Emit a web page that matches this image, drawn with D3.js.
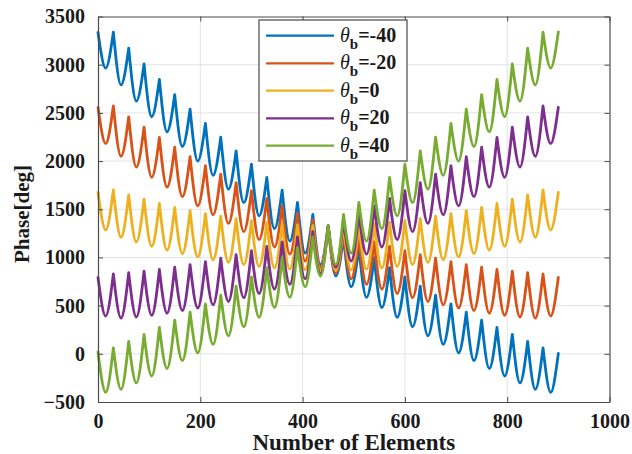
<!DOCTYPE html>
<html><head><meta charset="utf-8">
<script src="https://cdn.jsdelivr.net/npm/d3@7"></script>
<style>body{margin:0;background:#fff}svg{display:block}</style>
</head><body>
<svg id="chart" width="632" height="454"></svg>
<script>
// element index at which each value was read (peaks and troughs alternate)
const elementIdx = [0,15,30,45,60,75,90,105,120,135,150,165,180,195,210,225,240,255,270,285,300,315,330,345,360,375,390,405,420,435,450,465,480,495,510,525,540,555,570,585,600,615,630,645,660,675,690,705,720,735,750,765,780,795,810,825,840,855,870,885,900];

const phaseM40 = [3336,2965,3338,2790,3171,2622,3009,2460,2847,2303,2690,2151,2538,1999,2391,1852,2247,1708,2105,1568,1967,1431,1831,1299,1699,1170,1571,1045,1447,924,1328,807,1213,694,1103,585,997,480,895,378,797,281,701,187,609,97,519,10,432,-71,350,-153,273,-230,201,-302,129,-369,62,-400,5];
const phaseM20 = [2558,2180,2572,2050,2459,1938,2352,1831,2245,1729,2143,1631,2045,1534,1953,1442,1864,1353,1777,1267,1693,1185,1612,1108,1535,1034,1462,963,1392,897,1328,835,1268,777,1213,722,1161,672,1114,625,1071,583,1030,543,992,508,957,476,925,449,898,421,875,399,858,382,841,370,829,392,794];
const phase0 = [1676,1285,1700,1210,1650,1160,1605,1115,1560,1075,1520,1040,1485,1005,1455,975,1428,948,1403,925,1382,905,1363,890,1348,878,1337,870,1330,866,1328,866,1330,870,1337,878,1348,890,1363,905,1382,925,1403,948,1428,975,1455,1005,1485,1040,1520,1075,1560,1115,1605,1160,1650,1210,1700,1285,1676];
const phaseP20 = [794,392,829,370,841,382,858,399,875,421,898,449,925,476,957,508,992,543,1030,583,1071,625,1114,672,1161,722,1213,777,1268,835,1328,897,1392,963,1462,1034,1535,1108,1612,1185,1693,1267,1777,1353,1864,1442,1953,1534,2045,1631,2143,1729,2245,1831,2352,1938,2459,2050,2572,2180,2558];
const phaseP40 = [19,-400,62,-369,129,-302,201,-230,273,-153,350,-71,432,10,519,97,609,187,701,281,797,378,895,480,997,585,1103,694,1213,807,1328,924,1447,1045,1571,1170,1699,1299,1831,1431,1967,1568,2105,1708,2247,1852,2391,1999,2538,2151,2690,2303,2847,2460,3009,2622,3171,2790,3338,2965,3340];

const legendValues = ["=-40","=-20","=0","=20","=40"];
const seriesColors = ["#0072BD","#D95319","#EDB120","#7E2F8E","#77AC30"];
const xTicks = [0,200,400,600,800,1000];
const yTicks = [-500,0,500,1000,1500,2000,2500,3000,3500];

const seriesList = [phaseM40, phaseM20, phase0, phaseP20, phaseP40];

const svg = d3.select("#chart");
const L = 98, R = 609.5, T = 16.5, B = 402;
const x = d3.scaleLinear().domain([0,1000]).range([L,R]);
const y = d3.scaleLinear().domain([-500,3500]).range([B,T]);
const font = "'Liberation Serif','Times New Roman',serif";

svg.append("rect").attr("x",L).attr("y",T).attr("width",R-L).attr("height",B-T).attr("fill","#fff");

// grid
const grid = svg.append("g").attr("stroke","#e3e3e3").attr("stroke-width",1);
grid.selectAll(".gx").data(xTicks.slice(1,-1)).join("line")
  .attr("x1",d=>x(d)).attr("x2",d=>x(d)).attr("y1",T).attr("y2",B);
grid.selectAll(".gy").data(yTicks.slice(1,-1)).join("line")
  .attr("y1",d=>y(d)).attr("y2",d=>y(d)).attr("x1",L).attr("x2",R);

// series: each period drawn as its own arc so peaks are sharp
const arc = d3.line().x(d=>x(d[0])).y(d=>y(d[1])).curve(d3.curveMonotoneX);
seriesList.forEach((vals,si)=>{
  const pts = elementIdx.map((n,i)=>[n, vals[i]]);
  let dstr = "";
  for (let i=0; i+2 < pts.length; i+=2) dstr += arc([pts[i],pts[i+1],pts[i+2]]);
  svg.append("path").attr("d",dstr).attr("fill","none")
    .attr("stroke",seriesColors[si]).attr("stroke-width",2.8)
    .attr("stroke-linecap","round").attr("stroke-linejoin","round");
});

// axes
const axisColor = "#4a4a4a";
const fmt = d3.format("d");
const gx = svg.append("g").attr("transform",`translate(0,${B})`)
  .call(d3.axisBottom(x).tickValues(xTicks).tickFormat(fmt).tickSizeInner(-5).tickSizeOuter(0).tickPadding(12));
const gy = svg.append("g").attr("transform",`translate(${L},0)`)
  .call(d3.axisLeft(y).tickValues(yTicks).tickFormat(fmt).tickSizeInner(-5).tickSizeOuter(0).tickPadding(13));
const gt = svg.append("g").attr("transform",`translate(0,${T})`)
  .call(d3.axisTop(x).tickValues(xTicks).tickSizeInner(-5).tickSizeOuter(0).tickFormat(""));
const gr = svg.append("g").attr("transform",`translate(${R},0)`)
  .call(d3.axisRight(y).tickValues(yTicks).tickSizeInner(-5).tickSizeOuter(0).tickFormat(""));
[gx,gy,gt,gr].forEach(g=>{
  g.selectAll(".domain").attr("stroke",axisColor).attr("stroke-width",1.2);
  g.selectAll(".tick line").attr("stroke",axisColor);
  g.selectAll("text").attr("font-family",font).attr("font-weight","bold")
    .attr("font-size","20px").attr("fill","#1a1a1a");
});

// axis titles
svg.append("text").attr("x",(L+R)/2).attr("y",450).attr("text-anchor","middle")
  .attr("font-family",font).attr("font-weight","bold").attr("font-size","23px").attr("fill","#1a1a1a")
  .text("Number of Elements");
svg.append("text").attr("transform","translate(29,214) rotate(-90)").attr("text-anchor","middle")
  .attr("font-family",font).attr("font-weight","bold").attr("font-size","21px").attr("fill","#1a1a1a")
  .text("Phase[deg]");

// legend
const lg = svg.append("g");
lg.append("rect").attr("x",259).attr("y",20).attr("width",148).attr("height",141)
  .attr("fill","#fff").attr("stroke","#4a4a4a").attr("stroke-width",1.2);
const rowY = [35.7,63.3,90.7,118.3,145.7];
legendValues.forEach((lab,i)=>{
  lg.append("line").attr("x1",266).attr("x2",334).attr("y1",rowY[i]).attr("y2",rowY[i])
    .attr("stroke",seriesColors[i]).attr("stroke-width",2.2);
  const t = lg.append("text").attr("x",340).attr("y",rowY[i]+6)
    .attr("font-family",font).attr("fill","#1a1a1a").attr("font-size","20px");
  t.append("tspan").attr("font-style","italic").text("\u03b8");
  t.append("tspan").attr("font-weight","bold").attr("font-size","15px").attr("dy",7).text("b");
  t.append("tspan").attr("font-weight","bold").attr("dy",-7).text(lab);
});
</script>
</body></html>
